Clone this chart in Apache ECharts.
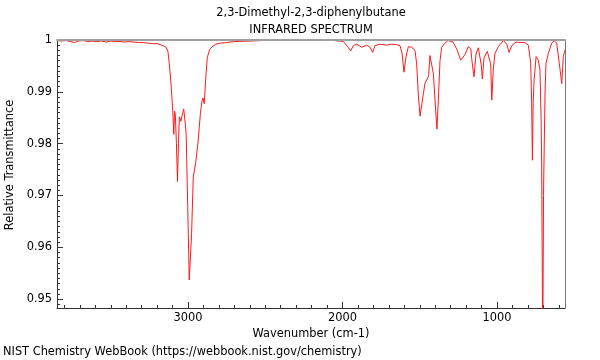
<!DOCTYPE html>
<html>
<head>
<meta charset="utf-8">
<script src="https://cdn.jsdelivr.net/npm/echarts@6/dist/echarts.min.js"></script>
<style>
html,body{margin:0;padding:0;background:#fff;}
#chart{width:600px;height:360px;}
</style>
</head>
<body>
<div id="chart"></div>
<script>
const titleLines = ["2,3-Dimethyl-2,3-diphenylbutane", "INFRARED SPECTRUM"];
const xAxisName = "Wavenumber (cm-1)";
const yAxisName = "Relative Transmittance";
const footer = "NIST Chemistry WebBook (https://webbook.nist.gov/chemistry)";

const xLabelTicks = [1000, 2000, 3000];
const yLabelTicks = [0.95, 0.96, 0.97, 0.98, 0.99, 1];

const wavenumbers = [
  3848, 3820, 3790, 3760, 3735, 3710, 3680, 3650, 3620, 3590, 3560, 3530, 3500, 3470, 3440, 3410,
  3380, 3350, 3320, 3290, 3260, 3230, 3200, 3180, 3160, 3142, 3130, 3121, 3110, 3099, 3092, 3087,
  3082, 3075, 3068, 3062, 3056, 3051, 3046, 3038, 3028, 3018, 3012, 3005, 2998, 2992, 2984, 2977,
  2966, 2950, 2935, 2920, 2910, 2903, 2895, 2884, 2875, 2860, 2840, 2820, 2790, 2750, 2700, 2600,
  2520, 2450, 2400, 2300, 2200, 2100, 2081, 2016, 1995, 1963, 1947, 1930, 1908, 1876, 1843, 1822,
  1805, 1790, 1757, 1714, 1682, 1649, 1628, 1615, 1602, 1589, 1574, 1552, 1531, 1520, 1509, 1498,
  1488, 1477, 1466, 1455, 1443, 1434, 1423, 1412, 1401, 1389, 1380, 1369, 1358, 1343, 1317, 1285,
  1261, 1235, 1207, 1186, 1170, 1160, 1149, 1136, 1121, 1110, 1102, 1095, 1084, 1076, 1063, 1052,
  1041, 1034, 1024, 1013, 992, 959, 937, 922, 905, 877, 845, 819, 797, 782, 776, 771,
  766, 760, 747, 733, 722, 715, 711, 704, 699, 696, 689, 683, 668, 646, 629, 614,
  597, 581, 571, 560
];
const transmittance = [
  0.9999, 0.9998, 0.9999, 0.9997, 0.9995, 0.9998, 0.9999, 0.9997, 0.9998, 0.9997, 0.9998, 0.9996, 0.9998, 0.9997, 0.9997, 0.9996,
  0.9997, 0.9996, 0.9995, 0.9995, 0.9994, 0.9993, 0.9993, 0.9991, 0.9989, 0.9986, 0.9978, 0.9954, 0.9915, 0.9864, 0.9818, 0.9863,
  0.9855, 0.9800, 0.9727, 0.9800, 0.9852, 0.9848, 0.9843, 0.9855, 0.9867, 0.9840, 0.9818, 0.9722, 0.9625, 0.9537, 0.9535, 0.9625,
  0.9736, 0.9764, 0.9803, 0.9858, 0.9882, 0.9888, 0.9877, 0.9932, 0.9966, 0.9982, 0.9988, 0.9992, 0.9994, 0.9995, 0.9997, 0.9998,
  0.9999, 1.0000, 0.9999, 0.9999, 0.9999, 0.9999, 0.99995, 0.9998, 0.9997, 0.9986, 0.9979, 0.9989, 0.9992, 0.9986, 0.9990, 0.9986,
  0.9976, 0.9989, 0.9992, 0.9990, 0.9992, 0.9991, 0.9989, 0.9975, 0.9938, 0.9968, 0.9987, 0.9986, 0.9980, 0.9954, 0.9892, 0.9853,
  0.9856, 0.9896, 0.9917, 0.9915, 0.9930, 0.9970, 0.9971, 0.9935, 0.9883, 0.9828, 0.9883, 0.9960, 0.9986, 0.9992, 0.9999, 0.9996,
  0.9983, 0.9961, 0.9972, 0.9987, 0.9983, 0.9954, 0.9929, 0.9973, 0.9985, 0.9983, 0.9952, 0.9925, 0.9966, 0.9964, 0.9978, 0.9981,
  0.9954, 0.9884, 0.9944, 0.9974, 0.9987, 0.9999, 0.9992, 0.9976, 0.9989, 0.9996, 0.9995, 0.9995, 0.9990, 0.9955, 0.9880, 0.9768,
  0.9880, 0.9923, 0.9968, 0.9961, 0.9942, 0.9850, 0.9765, 0.9400, 0.9700, 0.9765, 0.9900, 0.9955, 0.9974, 0.9994, 0.99985, 0.9994,
  0.9955, 0.9916, 0.9968, 0.9981
];

const X_MIN = 560, X_MAX = 3848;
const Y_MIN = 0.9483, Y_MAX = 1.0;

const xMinorTicks = [];
for (let v = 600; v <= 3800; v += 100) xMinorTicks.push(v);
const yMinorTicks = [];
for (let i = 949; i <= 1000; i++) yMinorTicks.push(i / 1000);

const seriesData = wavenumbers.map((w, i) => [w, transmittance[i]]);

const font = "'DejaVu Sans', sans-serif";
const fs = 11.4;
const chart = echarts.init(document.getElementById('chart'), null, {renderer: 'canvas'});
const gridL = 57, gridR = 565, gridT = 40, gridB = 308;
const cx = (gridL + gridR) / 2;

chart.setOption({
  animation: false,
  backgroundColor: '#fff',
  grid: {left: gridL, right: 600 - gridR, top: gridT, bottom: 360 - gridB, containLabel: false},
  xAxis: [
    {
      type: 'value', inverse: true, min: X_MIN, max: X_MAX, position: 'bottom',
      axisLine: {show: true, onZero: false, lineStyle: {color: '#333', width: 1}},
      axisTick: {show: true, inside: true, length: 6, customValues: xLabelTicks, lineStyle: {color: '#333'}},
      axisLabel: {show: true, customValues: xLabelTicks, color: '#000', fontFamily: font, fontSize: fs, margin: 5,
        formatter: v => String(Math.round(v))},
      splitLine: {show: false},
      name: xAxisName, nameLocation: 'middle', nameGap: 18,
      nameTextStyle: {color: '#000', fontFamily: font, fontSize: fs}
    },
    {
      type: 'value', inverse: true, min: X_MIN, max: X_MAX, position: 'bottom',
      axisLine: {show: false},
      axisTick: {show: true, inside: true, length: 3, customValues: xMinorTicks, lineStyle: {color: '#333'}},
      axisLabel: {show: false}, splitLine: {show: false}
    },
    {
      type: 'value', inverse: true, min: X_MIN, max: X_MAX, position: 'top', z: 10,
      axisLine: {show: true, onZero: false, lineStyle: {color: '#a0a0a0', width: 2}},
      axisTick: {show: false}, axisLabel: {show: false}, splitLine: {show: false}
    }
  ],
  yAxis: [
    {
      type: 'value', min: Y_MIN, max: Y_MAX, position: 'left',
      axisLine: {show: true, onZero: false, lineStyle: {color: '#333', width: 1}},
      axisTick: {show: true, inside: true, length: 6, customValues: yLabelTicks, lineStyle: {color: '#333'}},
      axisLabel: {show: true, customValues: yLabelTicks, color: '#000', fontFamily: font, fontSize: fs, margin: 5,
        formatter: v => String(+Number(v).toFixed(3))},
      splitLine: {show: false}
    },
    {
      type: 'value', min: Y_MIN, max: Y_MAX, position: 'left',
      axisLine: {show: false},
      axisTick: {show: true, inside: true, length: 3, customValues: yMinorTicks, lineStyle: {color: '#333'}},
      axisLabel: {show: false}, splitLine: {show: false}
    },
    {
      type: 'value', min: Y_MIN, max: Y_MAX, position: 'right', z: 10,
      axisLine: {show: true, onZero: false, lineStyle: {color: '#777', width: 1}},
      axisTick: {show: false}, axisLabel: {show: false}, splitLine: {show: false}
    }
  ],
  graphic: [
    {type: 'text', x: cx, y: 13, style: {text: titleLines[0], fill: '#000', font: fs + 'px ' + font, textAlign: 'center', textVerticalAlign: 'middle'}},
    {type: 'text', x: cx, y: 30, style: {text: titleLines[1], fill: '#000', font: fs + 'px ' + font, textAlign: 'center', textVerticalAlign: 'middle'}},
    {type: 'text', x: 10, y: (gridT + gridB) / 2 - 9, rotation: Math.PI / 2,
      style: {text: yAxisName, fill: '#000', font: fs + 'px ' + font, textAlign: 'center', textVerticalAlign: 'middle'}},
    {type: 'text', x: 3, y: 352, style: {text: footer, fill: '#000', font: fs + 'px ' + font, textAlign: 'left', textVerticalAlign: 'middle'}}
  ],
  series: [{
    type: 'line', xAxisIndex: 0, yAxisIndex: 0, data: seriesData,
    showSymbol: false, symbol: 'none', clip: true, smooth: false,
    lineStyle: {color: '#ff1a1a', width: 1},
    z: 5
  }]
});
</script>
</body>
</html>
